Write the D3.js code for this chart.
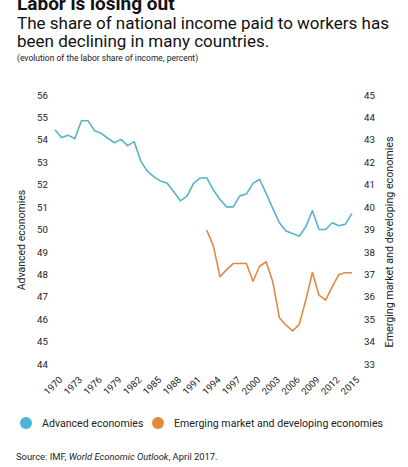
<!DOCTYPE html>
<html lang="en">
<head>
  <meta charset="UTF-8" />
  <title>Labor is losing out</title>
  <style>
  body {
    margin: 0;
    font-family: Roboto, sans-serif;
    background: #fff;
  }
  svg {
    display: block;
  }
  .tick text {
    font-family: Roboto, sans-serif;
    fill: #222;
  }
  </style>
  <script src="https://d3js.org/d3.v7.min.js"></script>
</head>
<body>
  <div id="chart"></div>
  <script>
    // Years on the x axis
    const years = d3.range(1970, 2016);
    const tickYears = d3.range(1970, 2016, 3);

    // Advanced economies (left axis), 1970-2015
    const advanced = [
      54.44, 54.10, 54.21, 54.05, 54.85, 54.85, 54.41, 54.29, 54.07, 53.87,
      54.02, 53.74, 53.92, 53.05, 52.60, 52.35, 52.16, 52.06, 51.68, 51.28,
      51.49, 52.06, 52.30, 52.30, 51.76, 51.34, 51.01, 51.01, 51.50, 51.58,
      52.06, 52.24, 51.60, 50.94, 50.30, 49.93, 49.82, 49.70, 50.12, 50.84,
      50.00, 50.00, 50.30, 50.17, 50.24, 50.72
    ];

    // Emerging market and developing economies (right axis), 1993-2015
    const emergingStart = 1993;
    const emerging = [
      38.97, 38.26, 36.89, 37.21, 37.48, 37.48, 37.48, 36.69, 37.36, 37.56,
      36.66, 35.06, 34.73, 34.48, 34.76, 35.85, 37.08, 36.07, 35.85, 36.44,
      36.99, 37.07, 37.07
    ];

    const leftDomain = [44, 56];
    const rightDomain = [33, 45];
    const blue = "#58b3cd";
    const orange = "#df8a42";

    const width = 408;
    const height = 467;

    const svg = d3.select("#chart").append("svg")
      .attr("width", width)
      .attr("height", height);

    // Title block (the heading is cut off at the top, as in the source)
    svg.append("text")
      .attr("x", 17).attr("y", 10)
      .attr("font-size", 19).attr("font-weight", "bold")
      .attr("fill", "#111")
      .text("Labor is losing out");

    svg.append("text")
      .attr("x", 17).attr("y", 29)
      .attr("font-size", 17).attr("fill", "#111")
      .text("The share of national income paid to workers has");

    svg.append("text")
      .attr("x", 17).attr("y", 47)
      .attr("font-size", 17).attr("fill", "#111")
      .text("been declining in many countries.");

    svg.append("text")
      .attr("x", 17).attr("y", 61)
      .attr("font-size", 8.5).attr("fill", "#222")
      .text("(evolution of the labor share of income, percent)");

    // Scales
    const x = d3.scaleLinear()
      .domain([1970, 2015])
      .range([55, 352]);

    const yLeft = d3.scaleLinear()
      .domain(leftDomain)
      .range([364, 95]);

    const yRight = d3.scaleLinear()
      .domain(rightDomain)
      .range([364, 95]);

    // Left axis
    const gLeft = svg.append("g")
      .attr("transform", "translate(50,0)")
      .call(d3.axisLeft(yLeft).ticks(12).tickSize(0).tickPadding(2));
    gLeft.select(".domain").remove();
    gLeft.selectAll("text").attr("font-size", 9.7);

    // Right axis
    const gRight = svg.append("g")
      .attr("transform", "translate(362,0)")
      .call(d3.axisRight(yRight).ticks(12).tickSize(0).tickPadding(2));
    gRight.select(".domain").remove();
    gRight.selectAll("text").attr("font-size", 9.7);

    // Bottom axis with rotated year labels
    const gBottom = svg.append("g")
      .attr("transform", "translate(0,372)")
      .call(d3.axisBottom(x).tickValues(tickYears).tickFormat(d3.format("d")).tickSize(0));
    gBottom.select(".domain").remove();
    gBottom.selectAll("text")
      .attr("font-size", 9.5)
      .attr("text-anchor", "end")
      .attr("dy", "0.35em")
      .attr("transform", "translate(3,4) rotate(-45)");

    // Axis titles
    svg.append("text")
      .attr("transform", "translate(25,240) rotate(-90)")
      .attr("text-anchor", "middle")
      .attr("font-size", 10.5).attr("fill", "#222")
      .text("Advanced economies");

    svg.append("text")
      .attr("transform", "translate(393,242) rotate(-90)")
      .attr("text-anchor", "middle")
      .attr("font-size", 10.7).attr("fill", "#222")
      .text("Emerging market and developing economies");

    // Lines
    const lineLeft = d3.line()
      .x((d, i) => x(years[i]))
      .y(d => yLeft(d));

    const lineRight = d3.line()
      .x((d, i) => x(emergingStart + i))
      .y(d => yRight(d));

    svg.append("path")
      .datum(advanced)
      .attr("fill", "none")
      .attr("stroke", blue)
      .attr("stroke-width", 1.6)
      .attr("stroke-linejoin", "round")
      .attr("d", lineLeft);

    svg.append("path")
      .datum(emerging)
      .attr("fill", "none")
      .attr("stroke", orange)
      .attr("stroke-width", 1.6)
      .attr("stroke-linejoin", "round")
      .attr("d", lineRight);

    // Legend
    const legendItems = [
      { label: "Advanced economies", color: "#4fb2d8", cx: 26 },
      { label: "Emerging market and developing economies", color: "#e8873a", cx: 158 }
    ];
    const legend = svg.append("g");
    legend.selectAll("circle")
      .data(legendItems)
      .enter().append("circle")
      .attr("cx", d => d.cx)
      .attr("cy", 423)
      .attr("r", 6)
      .attr("fill", d => d.color);
    legend.selectAll("text")
      .data(legendItems)
      .enter().append("text")
      .attr("x", d => d.cx + 16)
      .attr("y", 427)
      .attr("font-size", 10.6).attr("fill", "#222")
      .text(d => d.label);

    // Source
    const source = svg.append("text")
      .attr("x", 16).attr("y", 460)
      .attr("font-size", 9.4).attr("fill", "#222");
    source.append("tspan").text("Source: IMF, ");
    source.append("tspan").attr("font-style", "italic").text("World Economic Outlook");
    source.append("tspan").text(", April 2017.");
  </script>
</body>
</html>
